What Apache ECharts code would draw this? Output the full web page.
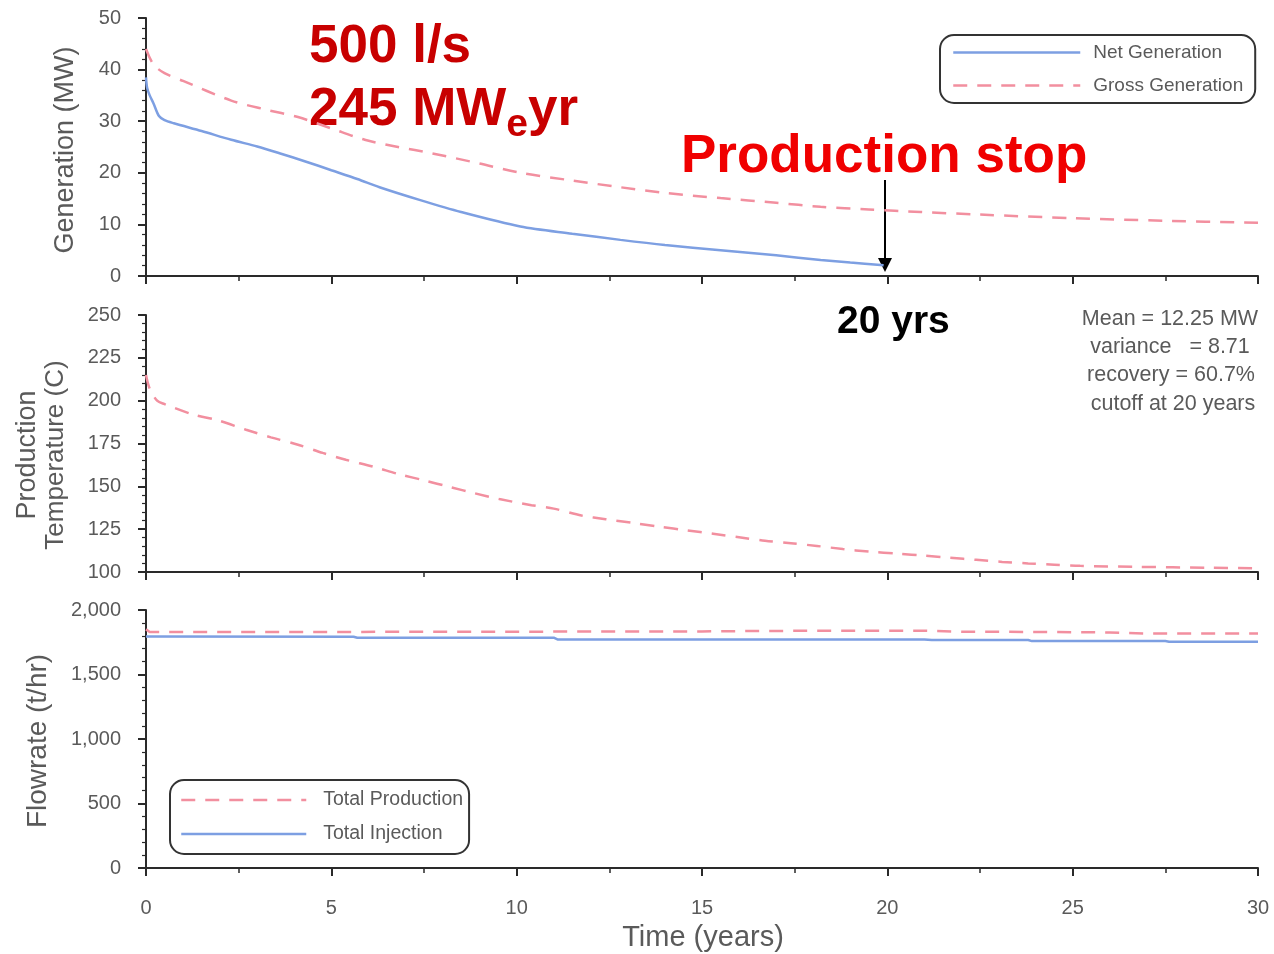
<!DOCTYPE html>
<html>
<head>
<meta charset="utf-8">
<script src="https://cdn.jsdelivr.net/npm/echarts@6/dist/echarts.min.js"></script>
<style>
html,body{margin:0;padding:0;background:#fff;}
#chart{width:1274px;height:954px;}
</style>
</head>
<body>
<div id="chart"></div>
<script>
// ---- Data ----
const netYears = [0, 0.03, 0.1, 0.2, 0.35, 0.5, 0.75, 1.5, 2.3, 3.0, 3.6, 4.3, 5.0, 5.7, 6.3, 7.4, 8.5, 10.1, 11.5, 12.8, 14.0, 15.5, 17.0, 18.2, 19.0, 19.9];
const netGen   = [38.5, 36.5, 35, 33.5, 31, 30.2, 29.6, 28.1, 26.4, 25.1, 23.8, 22.2, 20.5, 18.8, 17.2, 14.7, 12.4, 9.6, 8.2, 7.0, 6.0, 5.0, 4.0, 3.1, 2.6, 2.1];

const grossYears = [0, 0.2, 0.5, 1, 2.3, 3.2, 4.1, 5.0, 5.9, 6.8, 7.7, 9, 10.1, 11.5, 12.8, 14, 15.5, 17, 18.2, 19.5, 20.9, 22.5, 25, 27.5, 30];
const grossGen   = [44, 41, 39.3, 37.8, 34, 32.3, 30.8, 28.6, 26.4, 25, 23.8, 21.8, 20, 18.5, 17.2, 16.1, 15.1, 14.2, 13.4, 12.9, 12.4, 11.9, 11.2, 10.7, 10.3];

const tempYears = [0, 0.1, 0.3, 0.5, 1.26, 1.93, 2.7, 3.37, 4.1, 4.77, 5.39, 6.12, 6.84, 7.5, 8.2, 8.86, 9.53, 10.4, 11.0, 11.75, 12.4, 13.1, 13.85, 14.6, 15.3, 16, 16.7, 17.4, 18.1, 18.8, 19.5, 20.3, 21, 21.7, 22.4, 23.1, 23.8, 24.5, 25.2, 26.7, 28.7, 30];
const prodTemp  = [215, 207, 200, 198, 192, 188.6, 183, 178.6, 174.3, 169.5, 165.5, 161.5, 157, 153.5, 149.6, 146, 142.6, 139, 137, 133, 130.8, 128.8, 126.4, 124.3, 122.3, 120.3, 118.2, 116.8, 115.2, 113.4, 111.9, 110.7, 109.5, 108.3, 107.1, 105.9, 105, 104.3, 103.6, 103, 102.5, 102.2];

const prodYears = [0, 0.1, 5, 10, 15, 17, 20, 21, 22, 24, 26, 27, 30];
const totalProduction = [1850, 1830, 1830, 1832, 1834, 1838, 1840, 1840, 1832, 1830, 1826, 1818, 1818];

const injYears = [0, 5.6, 5.7, 11.0, 11.1, 21.0, 21.2, 23.8, 23.9, 27.5, 27.6, 30];
const totalInjection = [1795, 1793, 1785, 1785, 1772, 1772, 1767, 1767, 1759, 1759, 1754, 1754];

const xTicks = { min: 0, max: 30, interval: 5 };
const genTicks = { min: 0, max: 50, interval: 10 };
const tempTicks = { min: 100, max: 250, interval: 25 };
const flowTicks = { min: 0, max: 2000, interval: 500 };

const statsLines = ['Mean = 12.25 MW', 'variance   = 8.71', 'recovery = 60.7%', 'cutoff at 20 years'];

// ---- helpers ----
const zip = (xs, ys) => xs.map((x, i) => [x, ys[i]]);
const BLUE = '#7d9fe2';
const PINK = '#f28f9f';
const AX = '#2a2a2a';
const GRAY = '#5a5a5a';
const FONT = '"Liberation Sans", Arial, sans-serif';

function xAxis(gridIndex, showLabel) {
  return {
    type: 'value', gridIndex, min: xTicks.min, max: xTicks.max, interval: xTicks.interval,
    axisLine: { show: true, onZero: false, lineStyle: { color: AX, width: 2 } },
    axisTick: { show: true, length: 8, lineStyle: { color: AX, width: 2 } },
    minorTick: { show: true, splitNumber: 2, length: 5, lineStyle: { color: AX, width: 1.5 } },
    splitLine: { show: false },
    axisLabel: { show: showLabel, color: GRAY, fontSize: 20, fontFamily: FONT, margin: 30 }
  };
}
function yAxis(gridIndex, t, minorSplit) {
  return {
    type: 'value', gridIndex, min: t.min, max: t.max, interval: t.interval,
    axisLine: { show: true, onZero: false, lineStyle: { color: AX, width: 2 } },
    axisTick: { show: true, length: 8, lineStyle: { color: AX, width: 2 } },
    minorTick: { show: true, splitNumber: minorSplit, length: 4, lineStyle: { color: AX, width: 1.2 } },
    splitLine: { show: false },
    axisLabel: { color: GRAY, fontSize: 20, fontFamily: FONT, margin: 25 }
  };
}
const dash = [14, 10];

const chart = echarts.init(document.getElementById('chart'), null, { renderer: 'canvas' });

const option = {
  backgroundColor: '#fff',
  animation: false,
  grid: [
    { left: 146, right: 16, top: 18, height: 258 },
    { left: 146, right: 16, top: 315, height: 257 },
    { left: 146, right: 16, top: 610, height: 258 }
  ],
  xAxis: [xAxis(0, false), xAxis(1, false), xAxis(2, true)],
  yAxis: [yAxis(0, genTicks, 5), yAxis(1, tempTicks, 5), yAxis(2, flowTicks, 5)],
  legend: [
    {
      data: ['Net Generation', 'Gross Generation'],
      orient: 'vertical', left: 940, top: 35,
      itemWidth: 127, itemHeight: 14, itemGap: 14,
      padding: [8, 12, 8, 12],
      itemStyle: { opacity: 0 },
      lineStyle: { width: 2.5 },
      borderColor: '#333', borderWidth: 2, borderRadius: 14,
      textStyle: { color: GRAY, fontSize: 19, fontFamily: FONT, padding: [0, 0, 0, 8] }
    },
    {
      data: ['Total Production', 'Total Injection'],
      orient: 'vertical', left: 170, top: 780,
      itemWidth: 125, itemHeight: 14, itemGap: 14,
      padding: [10, 6, 10, 10],
      itemStyle: { opacity: 0 },
      lineStyle: { width: 2.5 },
      borderColor: '#333', borderWidth: 2, borderRadius: 14,
      textStyle: { color: GRAY, fontSize: 19.5, fontFamily: FONT, padding: [0, 0, 0, 12] }
    }
  ],
  series: [
    { name: 'Net Generation', type: 'line', xAxisIndex: 0, yAxisIndex: 0, data: zip(netYears, netGen),
      symbol: 'none', smooth: 0.3, lineStyle: { color: BLUE, width: 2.5 }, itemStyle: { color: BLUE } },
    { name: 'Gross Generation', type: 'line', xAxisIndex: 0, yAxisIndex: 0, data: zip(grossYears, grossGen),
      symbol: 'none', smooth: 0.3, lineStyle: { color: PINK, width: 2.5, type: dash }, itemStyle: { color: PINK } },
    { name: 'Production Temperature', type: 'line', xAxisIndex: 1, yAxisIndex: 1, data: zip(tempYears, prodTemp),
      symbol: 'none', smooth: 0.3, lineStyle: { color: PINK, width: 2.5, type: dash }, itemStyle: { color: PINK } },
    { name: 'Total Production', type: 'line', xAxisIndex: 2, yAxisIndex: 2, data: zip(prodYears, totalProduction),
      symbol: 'none', lineStyle: { color: PINK, width: 2.5, type: dash }, itemStyle: { color: PINK } },
    { name: 'Total Injection', type: 'line', xAxisIndex: 2, yAxisIndex: 2, data: zip(injYears, totalInjection),
      symbol: 'none', lineStyle: { color: BLUE, width: 2.5 }, itemStyle: { color: BLUE } }
  ],
  graphic: [
    // axis titles
    { type: 'text', x: 66, y: 150, rotation: Math.PI / 2, style: { text: 'Generation (MW)', fill: GRAY, fontSize: 27, fontFamily: FONT, align: 'center', verticalAlign: 'middle' } },
    { type: 'text', x: 28, y: 455, rotation: Math.PI / 2, style: { text: 'Production', fill: GRAY, fontSize: 27, fontFamily: FONT, align: 'center', verticalAlign: 'middle' } },
    { type: 'text', x: 56, y: 455, rotation: Math.PI / 2, style: { text: 'Temperature (C)', fill: GRAY, fontSize: 26, fontFamily: FONT, align: 'center', verticalAlign: 'middle' } },
    { type: 'text', x: 38, y: 741, rotation: Math.PI / 2, style: { text: 'Flowrate (t/hr)', fill: GRAY, fontSize: 28, fontFamily: FONT, align: 'center', verticalAlign: 'middle' } },
    { type: 'text', x: 703, y: 938, style: { text: 'Time (years)', fill: GRAY, fontSize: 29, fontFamily: FONT, align: 'center', verticalAlign: 'middle' } },
    // stats
    { type: 'text', x: 1170, y: 319, style: { text: statsLines[0], fill: GRAY, fontSize: 21.5, fontFamily: FONT, align: 'center', verticalAlign: 'middle' } },
    { type: 'text', x: 1170, y: 347, style: { text: statsLines[1], fill: GRAY, fontSize: 21.5, fontFamily: FONT, align: 'center', verticalAlign: 'middle' } },
    { type: 'text', x: 1171, y: 375, style: { text: statsLines[2], fill: GRAY, fontSize: 21.5, fontFamily: FONT, align: 'center', verticalAlign: 'middle' } },
    { type: 'text', x: 1173, y: 404, style: { text: statsLines[3], fill: GRAY, fontSize: 21.5, fontFamily: FONT, align: 'center', verticalAlign: 'middle' } },
    // red annotations
    { type: 'text', x: 309, y: 47, style: { text: '500 l/s', fill: '#c80000', fontSize: 53, fontWeight: 'bold', fontFamily: FONT, align: 'left', verticalAlign: 'middle' } },
    { type: 'text', x: 309, y: 110, style: {
        text: '{a|245 MW}{s|e}{a|yr}', fill: '#c80000', fontFamily: FONT, align: 'left', verticalAlign: 'middle',
        rich: {
          a: { fontSize: 53, fontWeight: 'bold', fontFamily: FONT, fill: '#c80000', lineHeight: 70, verticalAlign: 'middle' },
          s: { fontSize: 39, fontWeight: 'bold', fontFamily: FONT, fill: '#c80000', lineHeight: 70, verticalAlign: 'bottom' }
        } } },
    { type: 'text', x: 681, y: 157, style: { text: 'Production stop', fill: '#f00000', fontSize: 53, fontWeight: 'bold', fontFamily: FONT, align: 'left', verticalAlign: 'middle' } },
    { type: 'text', x: 837, y: 322, style: { text: '20 yrs', fill: '#000', fontSize: 39, fontWeight: 'bold', fontFamily: FONT, align: 'left', verticalAlign: 'middle' } },
    // arrow
    { type: 'line', shape: { x1: 885, y1: 180, x2: 885, y2: 260 }, style: { stroke: '#000', lineWidth: 2 } },
    { type: 'polygon', shape: { points: [[878, 258], [892, 258], [885, 272]] }, style: { fill: '#000' } }
  ]
};
chart.setOption(option);
</script>
</body>
</html>
